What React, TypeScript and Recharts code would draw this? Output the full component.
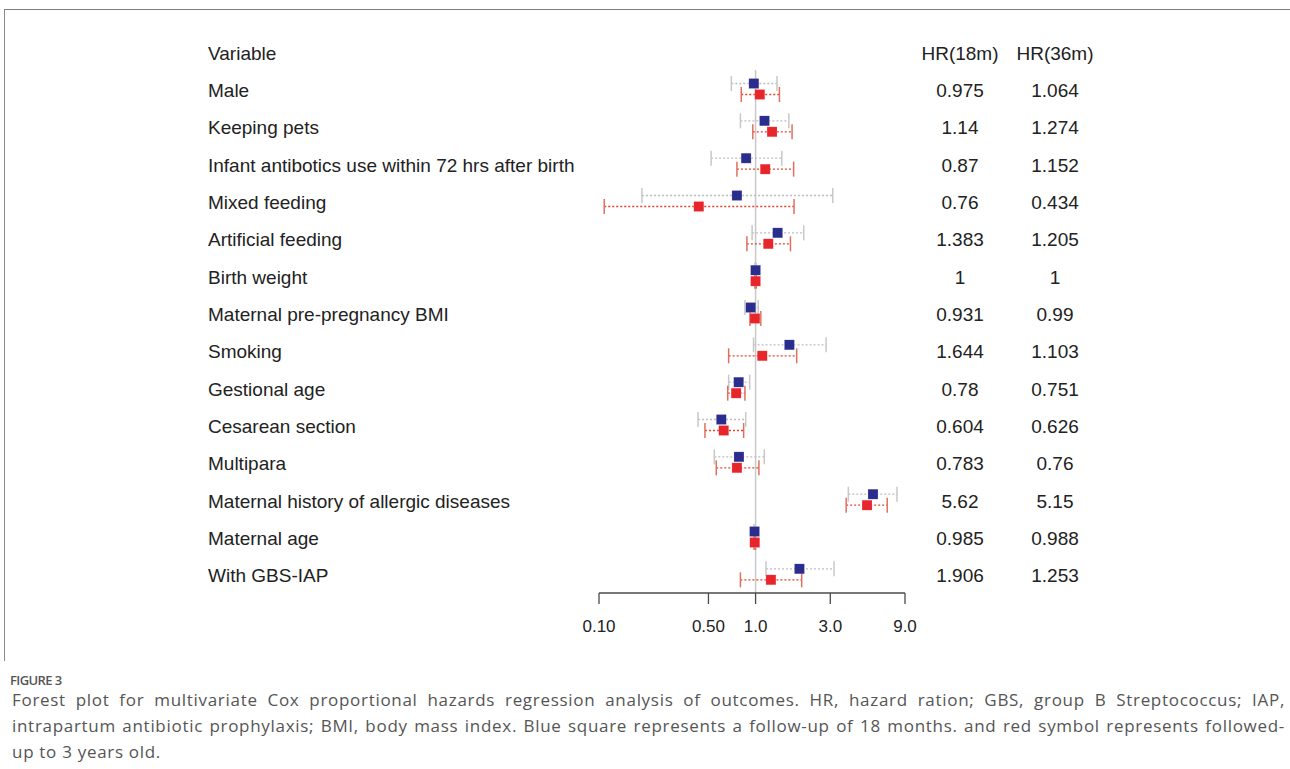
import { ScatterChart, Scatter, XAxis, YAxis, ErrorBar, ReferenceLine } from 'recharts';

const variables = [
  'Male',
  'Keeping pets',
  'Infant antibotics use within 72 hrs after birth',
  'Mixed feeding',
  'Artificial feeding',
  'Birth weight',
  'Maternal pre-pregnancy BMI',
  'Smoking',
  'Gestional age',
  'Cesarean section',
  'Multipara',
  'Maternal history of allergic diseases',
  'Maternal age',
  'With GBS-IAP',
];

// 18 months follow-up (blue)
const hr18 = [0.975, 1.14, 0.87, 0.76, 1.383, 1, 0.931, 1.644, 0.78, 0.604, 0.783, 5.62, 0.985, 1.906];
const lo18 = [0.7, 0.8, 0.52, 0.188, 0.95, 0.99, 0.855, 0.97, 0.673, 0.429, 0.545, 3.91, 0.975, 1.165];
const hi18 = [1.37, 1.63, 1.47, 3.11, 2.03, 1.01, 1.04, 2.82, 0.917, 0.865, 1.137, 8.0, 0.995, 3.17];

// 36 months follow-up (red)
const hr36 = [1.064, 1.274, 1.152, 0.434, 1.205, 1, 0.99, 1.103, 0.751, 0.626, 0.76, 5.15, 0.988, 1.253];
const lo36 = [0.81, 0.96, 0.76, 0.108, 0.88, 0.99, 0.92, 0.673, 0.664, 0.475, 0.561, 3.79, 0.978, 0.8];
const hi36 = [1.42, 1.71, 1.75, 1.76, 1.67, 1.01, 1.08, 1.83, 0.855, 0.839, 1.05, 6.93, 0.998, 1.97];

const xTicks = [0.1, 0.5, 1, 3, 9];
const xTickLabels = ['0.10', '0.50', '1.0', '3.0', '9.0'];

const header = ['Variable', 'HR(18m)', 'HR(36m)'];

const FONT = '"Liberation Sans", Arial, sans-serif';
const BLUE = '#2b2d8e';
const RED = '#e8252a';
const OFF = 0.147;

const rowTicks = [-1, ...variables.map((_, i) => i)];

const points = (hr: number[], lo: number[], hi: number[], off: number) =>
  hr.map((v, i) => ({ x: v, y: i + off, err: [v - lo[i], hi[i] - v] }));

const capPoints = (lo: number[], hi: number[], off: number) =>
  lo.flatMap((l, i) => [
    { x: l, y: i + off },
    { x: hi[i], y: i + off },
  ]);

const blue = points(hr18, lo18, hi18, -OFF);
const red = points(hr36, lo36, hi36, OFF);
const blueCaps = capPoints(lo18, hi18, -OFF);
const redCaps = capPoints(lo36, hi36, OFF);

// one tick draws the whole table row: name on the left, both HR columns on the right
const RowTick = (props: any) => {
  const idx = props.payload.value;
  const name = idx < 0 ? header[0] : variables[idx];
  const a = idx < 0 ? header[1] : String(hr18[idx]);
  const b = idx < 0 ? header[2] : String(hr36[idx]);
  const y = props.y + 8;
  return (
    <g fontSize={19} fill="#222" fontFamily={FONT}>
      <text x={208} y={y}>{name}</text>
      <text x={960} y={y} textAnchor="middle">{a}</text>
      <text x={1055} y={y} textAnchor="middle">{b}</text>
    </g>
  );
};

const square = (color: string) => (p: any) =>
  <rect x={p.cx - 5} y={p.cy - 5} width={10} height={10} fill={color} stroke="#ffffff" strokeOpacity={0.3} strokeWidth={0.5} />;

const cap = (color: string) => (p: any) =>
  <line x1={p.cx} x2={p.cx} y1={p.cy - 7.5} y2={p.cy + 7.5} stroke={color} strokeWidth={1.5} />;

const nothing = () => <g />;

const captionText = { fontFamily: '"Open Sans", sans-serif', color: '#555' };

export default function App() {
  return (
    <div style={{ position: 'absolute', left: 0, top: 0, width: 1290, height: 769, background: '#fff' }}>
      <div style={{ position: 'absolute', left: 4, top: 9, width: 1286, height: 0, borderTop: '1.5px solid #7d7d7d' }} />
      <div style={{ position: 'absolute', left: 4, top: 9, width: 0, height: 652, borderLeft: '1px solid #8a8a8a' }} />

      <div style={{ position: 'absolute', left: 0, top: 0 }}>
        <ScatterChart width={1290} height={645} margin={{ top: 33, right: 385, bottom: 0, left: 0 }}>
          <XAxis
            type="number"
            dataKey="x"
            scale="log"
            domain={[0.1, 9]}
            allowDataOverflow
            ticks={xTicks}
            tickFormatter={(_v: number, i: number) => xTickLabels[i]}
            tickSize={11}
            tickMargin={16}
            height={52}
            stroke="#4a4a4a"
            strokeWidth={1.3}
            tick={{ fill: '#222', fontSize: 17, fontFamily: FONT }}
          />
          <YAxis
            type="number"
            dataKey="y"
            domain={[-1.5, 13.5]}
            reversed
            ticks={rowTicks}
            interval={0}
            width={599}
            axisLine={false}
            tickLine={false}
            tick={RowTick}
          />
          <ReferenceLine
            segment={[{ x: 1, y: -0.5 }, { x: 1, y: 13.5 }]}
            stroke="#c8c8c8"
            strokeWidth={1.5}
            ifOverflow="visible"
          />
          <Scatter data={blue} shape={nothing} isAnimationActive={false}>
            <ErrorBar dataKey="err" direction="x" width={0} stroke="#bdbdbd" strokeWidth={1.3} strokeDasharray="2 2" isAnimationActive={false} />
          </Scatter>
          <Scatter data={red} shape={nothing} isAnimationActive={false}>
            <ErrorBar dataKey="err" direction="x" width={0} stroke="#e0452f" strokeWidth={1.3} strokeDasharray="2 2" isAnimationActive={false} />
          </Scatter>
          <Scatter data={blueCaps} shape={cap('#c8c8c8')} isAnimationActive={false} />
          <Scatter data={redCaps} shape={cap('#e0705e')} isAnimationActive={false} />
          <Scatter data={blue} shape={square(BLUE)} isAnimationActive={false} />
          <Scatter data={red} shape={square(RED)} isAnimationActive={false} />
        </ScatterChart>
      </div>

      <div style={{ ...captionText, position: 'absolute', left: 10, top: 671, fontSize: 13, fontWeight: 600, letterSpacing: -0.6, lineHeight: '18px' }}>
        FIGURE 3
      </div>
      <div style={{ ...captionText, position: 'absolute', left: 12, top: 687, width: 1273, fontSize: 17, letterSpacing: 0.7, lineHeight: '26px' }}>
        <div style={{ textAlign: 'justify', textAlignLast: 'justify', whiteSpace: 'nowrap' }}>
          Forest plot for multivariate Cox proportional hazards regression analysis of outcomes. HR, hazard ration; GBS, group B Streptococcus; IAP,
        </div>
        <div style={{ textAlign: 'justify', textAlignLast: 'justify', whiteSpace: 'nowrap' }}>
          intrapartum antibiotic prophylaxis; BMI, body mass index. Blue square represents a follow-up of 18 months. and red symbol represents followed-
        </div>
        <div style={{ whiteSpace: 'nowrap' }}>up to 3 years old.</div>
      </div>
    </div>
  );
}
